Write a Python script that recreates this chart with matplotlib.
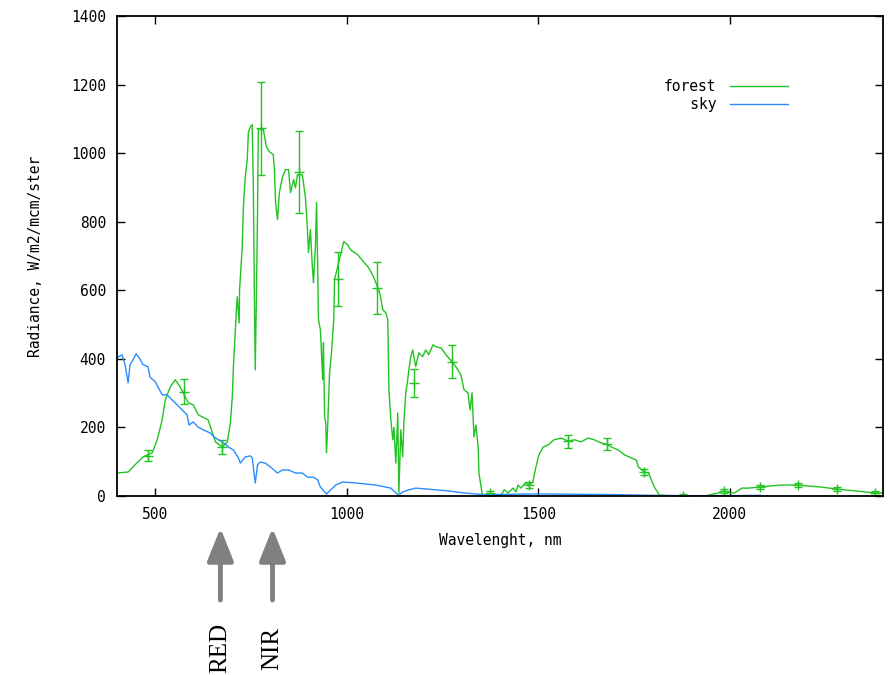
import matplotlib
matplotlib.use("Agg")
import matplotlib.pyplot as plt
from matplotlib.lines import Line2D
import matplotlib.transforms as mtransforms

# ---------------- data ----------------
forest_x = [400, 429, 447, 468, 492, 505, 518, 526, 539, 552, 565, 586, 599, 612, 638, 649, 657,
            675, 688, 696, 701, 704, 709, 712, 714, 719, 720, 727, 730, 735, 740, 743, 748, 753,
            756, 759, 761, 764, 767, 769, 780, 782, 790, 798, 808, 811, 814, 819, 824, 832, 840,
            848, 853, 861, 866, 871, 884, 892, 897, 900, 905, 910, 913, 918, 921, 924, 926, 931,
            937, 939, 942, 945, 947, 950, 955, 960, 966, 968, 989, 992, 1002, 1010, 1028, 1044,
            1057, 1070, 1086, 1094, 1102, 1107, 1110, 1115, 1120, 1123, 1128, 1133, 1136, 1141,
            1146, 1149, 1154, 1159, 1162, 1167, 1172, 1180, 1188, 1198, 1206, 1214, 1225, 1233,
            1246, 1259, 1285, 1298, 1306, 1316, 1322, 1327, 1332, 1337, 1343, 1345, 1353, 1356,
            1369, 1384, 1403, 1411, 1421, 1434, 1442, 1447, 1455, 1466, 1476, 1486, 1492, 1500,
            1505, 1513, 1526, 1541, 1560, 1578, 1594, 1612, 1630, 1646, 1664, 1680, 1691, 1709,
            1725, 1743, 1756, 1761, 1777, 1788, 1795, 1803, 1816, 1850, 1900, 1934, 1971, 1984,
            2000, 2013, 2031, 2049, 2078, 2102, 2136, 2178, 2206, 2240, 2280, 2327, 2379, 2400]
forest_y = [67, 70, 91, 114, 126, 164, 222, 280, 318, 339, 318, 272, 266, 237, 222, 184, 158,
            143, 158, 213, 289, 377, 485, 549, 581, 505, 601, 727, 844, 931, 981, 1060, 1077, 1083,
            902, 552, 368, 581, 835, 1069, 1069, 1069, 1019, 1004, 996, 952, 856, 806, 885, 931, 952,
            952, 885, 923, 899, 937, 937, 870, 783, 710, 777, 669, 622, 727, 856, 669, 514, 485,
            339, 447, 231, 213, 126, 201, 359, 418, 514, 631, 727, 742, 733, 718, 704, 683,
            666, 639, 593, 543, 534, 514, 310, 222, 164, 201, 96, 242, 9, 193,
            114, 213, 301, 339, 368, 406, 426, 377, 418, 406, 426, 412, 441, 435,
            432, 412, 377, 353, 310, 301, 251, 301, 172, 207, 143, 67, 9, 3,
            3, 0, 3, 18, 9, 23, 12, 32, 23, 38, 32, 41, 76, 114,
            128, 143, 149, 164, 169, 160, 164, 158, 169, 164, 155, 150, 143, 134,
            120, 111, 105, 85, 70, 67, 47, 26, 3, 0, 0, 0, 9, 15,
            9, 9, 23, 23, 26, 29, 32, 32, 29, 26, 20, 15, 9, 9]

err_x = [480, 575, 675, 777, 876, 976, 1078, 1175, 1274, 1374, 1476, 1578, 1680, 1777, 1879,
         1984, 2078, 2178, 2280, 2380]
err_y = [117, 304, 143, 1072, 946, 634, 607, 330, 392, 8, 32, 160, 152, 70, 0,
         15, 26, 32, 20, 9]
err_e = [16, 37, 20, 136, 120, 79, 75, 40, 48, 8, 8, 19, 17, 8, 6,
         6, 6, 6, 6, 6]

sky_x = [400, 413, 421, 429, 434, 442, 450, 458, 468, 481, 486, 500, 507, 518, 531, 544, 557,
         570, 583, 588, 599, 612, 625, 643, 657, 675, 691, 704, 717, 722, 735, 748, 753, 761,
         767, 774, 787, 800, 819, 832, 848, 866, 884, 897, 913, 924, 931, 947, 958, 971, 989,
         1023, 1075, 1115, 1128, 1136, 1146, 1162, 1180, 1264, 1306, 1356, 1500, 1700, 1790,
         1900, 2000, 2080]
sky_y = [403, 412, 383, 330, 383, 397, 415, 403, 383, 377, 347, 333, 318, 295, 295, 280, 266,
         251, 237, 207, 216, 201, 193, 184, 169, 158, 143, 134, 111, 96, 114, 117, 111, 38,
         91, 99, 96, 85, 67, 76, 76, 67, 67, 55, 55, 47, 26, 6, 18, 32, 41,
         38, 32, 23, 9, 3, 12, 18, 23, 15, 9, 4, 6, 4, 2,
         1, 1, 2]

arrow_x = [670, 806]
arrow_labels = ["RED", "NIR"]

# ---------------- figure ----------------
GREEN = "#22c322"
BLUE = "#2b8cff"
MONO = "DejaVu Sans Mono"

fig = plt.figure(figsize=(8.9, 6.75), dpi=100)
ax = fig.add_axes([117/890, 1 - 496/675, (883-117)/890, (496-16)/675])

ax.plot(forest_x, forest_y, color=GREEN, lw=1.0, label="forest")
ax.errorbar(err_x, err_y, yerr=err_e, fmt="+", color=GREEN, ms=7, mew=1.0,
            elinewidth=1.0, capsize=3, capthick=1.0)
ax.plot(sky_x, sky_y, color=BLUE, lw=1.0, label="   sky")

ax.set_xlim(400, 2400)
ax.set_ylim(0, 1400)
ax.set_xticks([500, 1000, 1500, 2000])
ax.set_yticks(range(0, 1401, 200))
ax.tick_params(direction="in", top=True, right=True, length=6, width=1.0,
               labelsize=10.5, pad=8)
for lab in ax.get_xticklabels() + ax.get_yticklabels():
    lab.set_family(MONO)
for sp in ax.spines.values():
    sp.set_linewidth(1.3)

ax.set_xlabel("Wavelenght, nm", family=MONO, fontsize=10.5, labelpad=8)
ax.set_ylabel("Radiance, W/m2/mcm/ster", family=MONO, fontsize=10.5, labelpad=20)

handles = [Line2D([], [], color=GREEN, lw=1.0), Line2D([], [], color=BLUE, lw=1.0)]
ax.legend(handles, ["forest", "   sky"], loc="upper right",
          bbox_to_anchor=(788/890, 1 - 79/675), bbox_transform=fig.transFigure,
          frameon=False, markerfirst=False, handlelength=4.0, handletextpad=0.9,
          labelspacing=0.2, borderpad=0, borderaxespad=0,
          prop={"family": MONO, "size": 10.5})

# arrows below the axis (x in data units, y in figure units)
trans = mtransforms.blended_transform_factory(ax.transData, fig.transFigure)
for xv, lab in zip(arrow_x, arrow_labels):
    ax.annotate("", xy=(xv, 1 - 528/675), xytext=(xv, 1 - 600/675),
                xycoords=trans, textcoords=trans, annotation_clip=False,
                arrowprops=dict(arrowstyle="-|>,head_length=2.0,head_width=0.8",
                                color="#808080", lw=3.5, shrinkA=0, shrinkB=0))
    ax.text(xv, 1 - 648/675, lab, transform=trans, rotation=90, ha="center",
            va="center", family="Liberation Serif", fontsize=18, color="black",
            clip_on=False)

fig.savefig("out.png", dpi=100)
